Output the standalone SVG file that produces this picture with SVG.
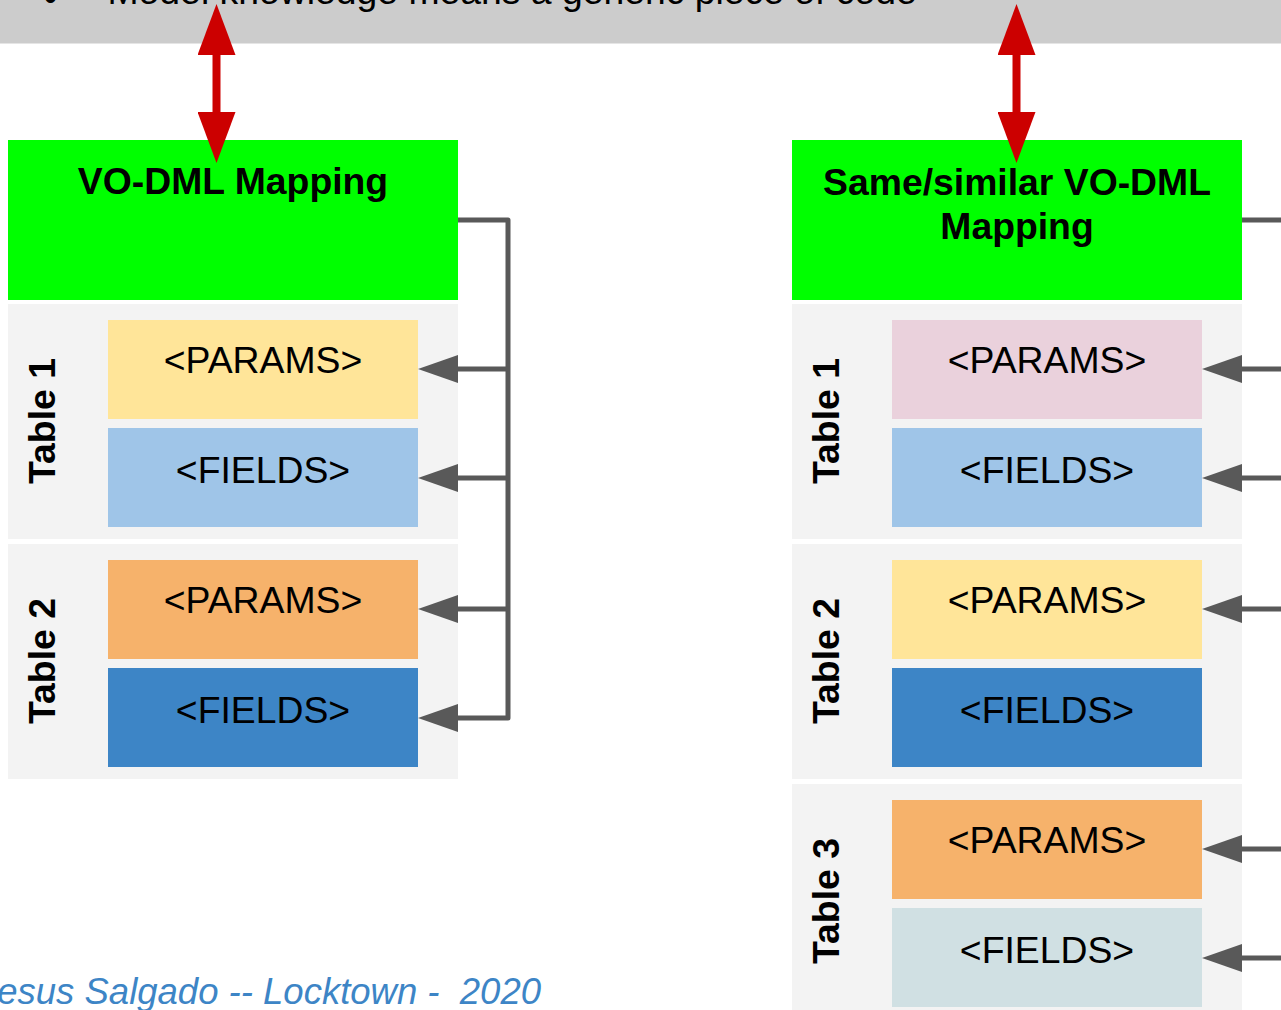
<svg xmlns="http://www.w3.org/2000/svg" width="1281" height="1010" viewBox="0 0 1281 1010">
  <style>
    .bar { fill: #cccccc; }
    .mapping { fill: #00ff00; }
    .panel { fill: #f3f3f3; }
    .title { font-family: "Liberation Sans", Arial, sans-serif; font-weight: bold; font-size: 37.33px; fill: #000000; text-anchor: middle; }
    .tname { font-family: "Liberation Sans", Arial, sans-serif; font-weight: bold; font-size: 37.33px; fill: #000000; text-anchor: middle; }
    .blk { font-family: "Liberation Sans", Arial, sans-serif; font-size: 37.33px; fill: #000000; text-anchor: middle; }
    .bullet { font-family: "Liberation Sans", Arial, sans-serif; font-size: 37.33px; fill: #000000; }
    .footer { font-family: "Liberation Sans", Arial, sans-serif; font-style: italic; font-size: 36.5px; fill: #3d85c6; white-space: pre; }
    .yellow { fill: #ffe599; }
    .pink { fill: #ead1dc; }
    .lblue { fill: #9fc5e8; }
    .orange { fill: #f6b26b; }
    .dblue { fill: #3d85c6; }
    .grey { fill: #d0e0e3; }
    .link { fill: none; stroke: #595959; stroke-width: 5; stroke-linejoin: round; }
    .red { fill: none; stroke: #cc0000; stroke-width: 8; }
  </style>
  <defs>
    <marker id="head" viewBox="0 0 40 28" refX="0" refY="14" markerWidth="40" markerHeight="28" markerUnits="userSpaceOnUse" orient="auto">
      <path d="M0,0 L40,14 L0,28 z" fill="#595959"/>
    </marker>
    <marker id="redhead" viewBox="0 0 51 38" refX="0" refY="19" markerWidth="51" markerHeight="38" markerUnits="userSpaceOnUse" orient="auto-start-reverse">
      <path d="M0,0 L51,19 L0,38 z" fill="#cc0000"/>
    </marker>
  </defs>

  <rect width="1281" height="1010" fill="#ffffff"/>

  <!-- slide header strip, clipped at the top edge -->
  <g id="header">
    <rect class="bar" x="0" y="0" width="1281" height="43.5"/>
    <text class="bullet" x="44" y="10">•</text>
    <text class="bullet" x="107.5" y="4">Model knowledge means a generic piece of code</text>
  </g>

  <!-- left: mapping and its two tables -->
  <g id="left-mapping">
    <rect class="mapping" x="8" y="140" width="450" height="160"/>
    <text class="title" x="233" y="194">VO-DML Mapping</text>
  </g>
  <g id="left-table1">
    <rect class="panel" x="8" y="304" width="450" height="235"/>
    <text class="tname" transform="translate(55,421) rotate(-90)">Table 1</text>
    <rect class="yellow" x="108" y="320" width="310" height="99"/>
    <text class="blk" x="263" y="373">&lt;PARAMS&gt;</text>
    <rect class="lblue" x="108" y="428" width="310" height="99"/>
    <text class="blk" x="263" y="483">&lt;FIELDS&gt;</text>
  </g>
  <g id="left-table2">
    <rect class="panel" x="8" y="544" width="450" height="235"/>
    <text class="tname" transform="translate(55,661) rotate(-90)">Table 2</text>
    <rect class="orange" x="108" y="560" width="310" height="99"/>
    <text class="blk" x="263" y="613">&lt;PARAMS&gt;</text>
    <rect class="dblue" x="108" y="668" width="310" height="99"/>
    <text class="blk" x="263" y="723">&lt;FIELDS&gt;</text>
  </g>

  <!-- right: similar mapping and its three tables -->
  <g id="right-mapping">
    <rect class="mapping" x="792" y="140" width="450" height="160"/>
    <text class="title" x="1017" y="195">Same/similar VO-DML</text>
    <text class="title" x="1017" y="239">Mapping</text>
  </g>
  <g id="right-table1">
    <rect class="panel" x="792" y="304" width="450" height="235"/>
    <text class="tname" transform="translate(839,421) rotate(-90)">Table 1</text>
    <rect class="pink" x="892" y="320" width="310" height="99"/>
    <text class="blk" x="1047" y="373">&lt;PARAMS&gt;</text>
    <rect class="lblue" x="892" y="428" width="310" height="99"/>
    <text class="blk" x="1047" y="483">&lt;FIELDS&gt;</text>
  </g>
  <g id="right-table2">
    <rect class="panel" x="792" y="544" width="450" height="235"/>
    <text class="tname" transform="translate(839,661) rotate(-90)">Table 2</text>
    <rect class="yellow" x="892" y="560" width="310" height="99"/>
    <text class="blk" x="1047" y="613">&lt;PARAMS&gt;</text>
    <rect class="dblue" x="892" y="668" width="310" height="99"/>
    <text class="blk" x="1047" y="723">&lt;FIELDS&gt;</text>
  </g>
  <g id="right-table3">
    <rect class="panel" x="792" y="784" width="450" height="235"/>
    <text class="tname" transform="translate(839,901) rotate(-90)">Table 3</text>
    <rect class="orange" x="892" y="800" width="310" height="99"/>
    <text class="blk" x="1047" y="853">&lt;PARAMS&gt;</text>
    <rect class="grey" x="892" y="908" width="310" height="99"/>
    <text class="blk" x="1047" y="963">&lt;FIELDS&gt;</text>
  </g>

  <!-- connectors -->
  <g id="connectors">
    <path class="link" d="M458,220 H508 V718 H458" marker-end="url(#head)"/>
    <path class="link" d="M508,369 H458" marker-end="url(#head)"/>
    <path class="link" d="M508,478 H458" marker-end="url(#head)"/>
    <path class="link" d="M508,609 H458" marker-end="url(#head)"/>

    <path class="link" d="M1242,220 H1290"/>
    <path class="link" d="M1290,369 H1242" marker-end="url(#head)"/>
    <path class="link" d="M1290,478 H1242" marker-end="url(#head)"/>
    <path class="link" d="M1290,609 H1242" marker-end="url(#head)"/>
    <path class="link" d="M1290,849 H1242" marker-end="url(#head)"/>
    <path class="link" d="M1290,958 H1242" marker-end="url(#head)"/>

    <path class="red" d="M216.5,55 V112" marker-start="url(#redhead)" marker-end="url(#redhead)"/>
    <path class="red" d="M1016.5,55 V112" marker-start="url(#redhead)" marker-end="url(#redhead)"/>
  </g>

  <text class="footer" x="-21" y="1004">Jesus Salgado -- Locktown -  2020</text>
</svg>
